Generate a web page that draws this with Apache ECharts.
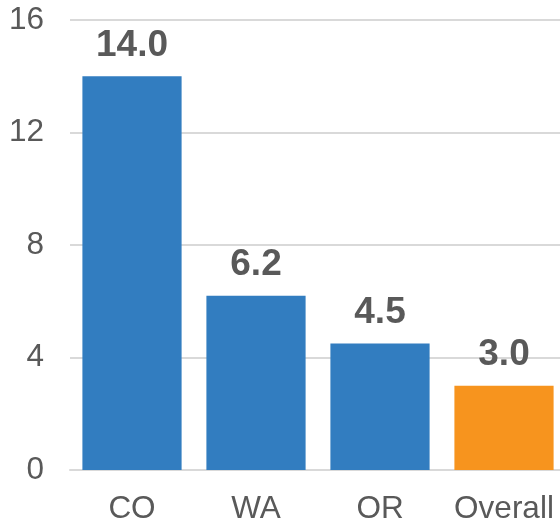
<!DOCTYPE html>
<html>
<head>
<meta charset="utf-8">
<script src="https://cdn.jsdelivr.net/npm/echarts@6/dist/echarts.min.js"></script>
<style>
  html, body { margin: 0; padding: 0; background: #fff; overflow: hidden; }
  #chart { width: 566px; height: 521px; }
</style>
</head>
<body>
<div id="chart"></div>
<script>
var categories = ['CO', 'WA', 'OR', 'Overall'];
var values = [14.0, 6.2, 4.5, 3.0];
var barColors = ['#327DC0', '#327DC0', '#327DC0', '#F7941E'];

var myChart = echarts.init(document.getElementById('chart'));

var option = {
    animation: false,
    grid: {
        left: 70,
        right: 0,
        top: 20,
        bottom: 51,
        containLabel: false,
        outerBoundsMode: 'none'
    },
    xAxis: {
        type: 'category',
        data: categories,
        axisLine: { show: true, lineStyle: { color: '#D9D9D9', width: 2 } },
        axisTick: { show: false },
        axisLabel: {
            interval: 0,
            hideOverlap: false,
            color: '#595959',
            fontSize: 31.5,
            fontFamily: 'Liberation Sans, Arial, sans-serif',
            margin: 23
        }
    },
    yAxis: {
        type: 'value',
        min: 0,
        max: 16,
        interval: 4,
        axisLine: { show: false },
        axisTick: { show: false },
        splitLine: { lineStyle: { color: '#D9D9D9', width: 2 } },
        axisLabel: {
            color: '#595959',
            fontSize: 31.5,
            fontFamily: 'Liberation Sans, Arial, sans-serif',
            margin: 26
        }
    },
    series: [{
        type: 'bar',
        barCategoryGap: '20%',
        data: values.map(function (v, i) {
            return { value: v, itemStyle: { color: barColors[i] } };
        }),
        label: {
            show: true,
            position: 'top',
            distance: 12,
            color: '#595959',
            fontSize: 37,
            fontWeight: 'bold',
            fontFamily: 'Liberation Sans, Arial, sans-serif',
            formatter: function (p) { return p.value.toFixed(1); }
        }
    }]
};

myChart.setOption(option);
</script>
</body>
</html>
